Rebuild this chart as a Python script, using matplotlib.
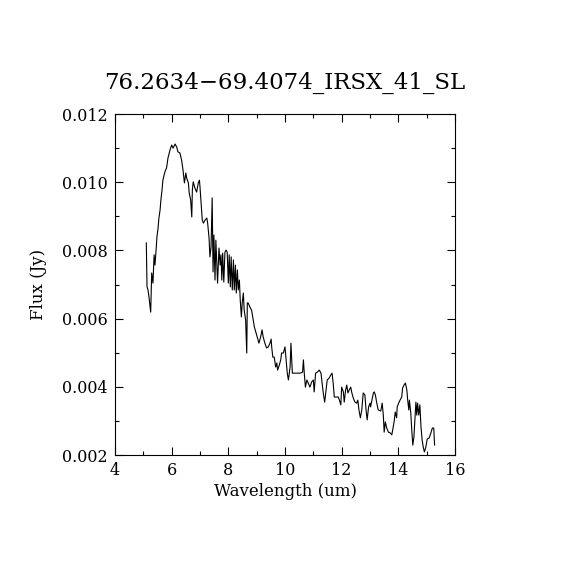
import matplotlib
matplotlib.use("Agg")
import matplotlib.pyplot as plt
from matplotlib.ticker import MultipleLocator

title = "76.2634\u221269.4074_IRSX_41_SL"
xlabel = "Wavelength (um)"
ylabel = "Flux (Jy)"

wavelength = [
    5.105, 5.13, 5.165, 5.20, 5.26, 5.295, 5.34, 5.38, 5.41, 5.45, 5.48, 5.52, 5.55, 5.59,
    5.62, 5.66, 5.69, 5.76, 5.82, 5.87, 5.94, 6.00, 6.05, 6.12, 6.18, 6.22, 6.29, 6.35,
    6.40, 6.45, 6.50, 6.53, 6.59, 6.62, 6.67, 6.71, 6.73, 6.76, 6.82, 6.88, 6.94, 6.98,
    7.00, 7.04, 7.08, 7.12, 7.18, 7.24, 7.27, 7.32, 7.35, 7.39,
    7.43, 7.46, 7.49, 7.53, 7.56, 7.62, 7.67, 7.71, 7.74, 7.77, 7.80, 7.84, 7.88, 7.92,
    7.96, 8.00, 8.03, 8.07, 8.10, 8.14, 8.18, 8.21, 8.25, 8.28, 8.32, 8.35, 8.39, 8.42,
    8.46, 8.49, 8.53, 8.56, 8.61, 8.65,
    8.67, 8.70, 8.76, 8.82, 8.88, 8.92, 8.98, 9.02, 9.08, 9.14, 9.19, 9.23, 9.29, 9.35,
    9.41, 9.47, 9.51, 9.53, 9.57, 9.62, 9.67, 9.71, 9.74, 9.80, 9.85, 9.88, 9.94, 10.00,
    10.04, 10.08, 10.12, 10.18, 10.21, 10.26, 10.29, 10.41, 10.53, 10.62, 10.65, 10.68,
    10.72, 10.77, 10.82, 10.88, 10.94, 11.00, 11.03, 11.08, 11.14, 11.21, 11.27, 11.35,
    11.40, 11.45, 11.49, 11.56, 11.62, 11.66, 11.70, 11.74, 11.82, 11.88, 11.92, 11.97,
    12.00, 12.06, 12.09, 12.14, 12.18, 12.22, 12.27, 12.32, 12.36, 12.41, 12.47, 12.53,
    12.57, 12.61, 12.66, 12.71, 12.76, 12.82, 12.86, 12.90, 12.95, 13.00, 13.02, 13.07,
    13.12, 13.15, 13.19, 13.24, 13.29, 13.38, 13.43, 13.47, 13.50, 13.54, 13.59, 13.65,
    13.71, 13.77, 13.80, 13.85, 13.89, 13.94, 13.96, 14.01, 14.06, 14.12, 14.15, 14.20,
    14.25, 14.30, 14.33, 14.37, 14.39, 14.44, 14.47, 14.51, 14.55, 14.59, 14.62, 14.65,
    14.68, 14.72, 14.76, 14.80, 14.84, 14.88, 14.92, 14.97, 15.02, 15.09, 15.15, 15.20,
    15.25, 15.28,
]

flux_mjy = [
    8.22, 6.93, 6.84, 6.63, 6.19, 7.34, 7.04, 7.87, 7.57, 8.01, 8.39, 8.66, 8.95, 9.18,
    9.48, 9.77, 10.06, 10.30, 10.42, 10.71, 10.94, 11.09, 11.00, 11.12, 11.03, 10.89, 10.86, 10.65,
    10.36, 9.98, 10.27, 10.12, 9.98, 9.68, 9.48, 8.98, 9.77, 10.01, 9.83, 9.71, 9.98, 10.06,
    9.86, 9.39, 8.89, 8.80, 8.89, 8.95, 8.80, 8.36, 7.81, 8.10,
    9.54, 7.37, 8.45, 7.13, 8.30, 7.04, 8.07, 7.57, 7.87, 7.13, 7.92, 7.07, 7.95, 8.01,
    7.95, 7.04, 7.87, 6.93, 7.81, 6.84, 7.72, 6.84, 7.57, 6.75, 7.43, 6.84, 7.13, 6.55,
    6.05, 6.46, 6.75, 6.25, 5.96, 4.99,
    6.46, 6.46, 6.34, 6.25, 5.96, 5.75, 5.58, 5.46, 5.28, 5.46, 5.67, 5.46, 5.28, 5.14,
    5.17, 5.28, 5.40, 5.17, 4.87, 4.87, 4.58, 4.70, 4.49, 4.64, 4.79, 4.99, 4.99, 5.17,
    4.79, 4.40, 4.20, 4.58, 5.28, 4.40, 4.40, 4.40, 4.40, 4.43, 4.79, 4.40,
    3.99, 4.20, 4.11, 3.99, 4.14, 4.20, 3.85, 4.40, 4.43, 4.49, 4.40, 3.82,
    3.55, 3.91, 4.20, 4.26, 4.35, 4.40, 4.11, 3.70, 3.70, 3.70, 3.61, 3.47,
    3.99, 3.85, 3.55, 3.91, 4.05, 3.82, 3.91, 3.99, 3.82, 3.67, 3.55, 3.52,
    3.61, 3.32, 3.09, 3.32, 3.82, 3.76, 3.32, 3.03, 3.41, 3.52, 3.41, 3.61,
    3.82, 3.85, 3.76, 3.52, 3.32, 3.29, 3.52, 3.17, 2.67, 2.97, 2.79, 2.67,
    2.65, 2.59, 2.73, 2.97, 3.26, 3.09, 3.41, 3.52, 3.61, 3.70, 3.96, 4.05,
    4.11, 3.91, 3.61, 3.32, 3.61, 3.23, 2.79, 2.29, 2.53, 3.11, 3.55, 3.17,
    3.52, 3.17, 3.47, 2.82, 2.44, 2.23, 2.09, 2.23, 2.47, 2.50, 2.65, 2.79,
    2.79, 2.29,
]

flux = [v * 1e-3 for v in flux_mjy]

plt.rcParams["font.family"] = ["DejaVu Serif"]

fig = plt.figure(figsize=(5.7, 5.7), dpi=100)
ax = fig.add_axes([115 / 570, 1 - 455 / 570, 340 / 570, 341 / 570])
ax.plot(wavelength, flux, color="black", lw=0.8)
ax.set_xlim(4, 16)
ax.set_ylim(0.002, 0.012)
ax.xaxis.set_major_locator(MultipleLocator(2))
ax.xaxis.set_minor_locator(MultipleLocator(1))
ax.yaxis.set_major_locator(MultipleLocator(0.002))
ax.yaxis.set_minor_locator(MultipleLocator(0.001))
ax.yaxis.set_major_formatter(plt.FuncFormatter(lambda v, p: f"{v:.3f}"))
ax.tick_params(which="both", direction="in", top=True, right=True, width=0.8,
               labelsize=11.5, color="black")
ax.tick_params(which="major", length=5.5, pad=5)
ax.tick_params(which="minor", length=3)
for s in ax.spines.values():
    s.set_linewidth(0.8)
ax.set_xlabel(xlabel, fontsize=12, labelpad=3)
ax.set_ylabel(ylabel, fontsize=12, labelpad=11)
ax.set_title(title, fontsize=16.5, pad=18)

fig.savefig("out.png", dpi=100, facecolor="white")
